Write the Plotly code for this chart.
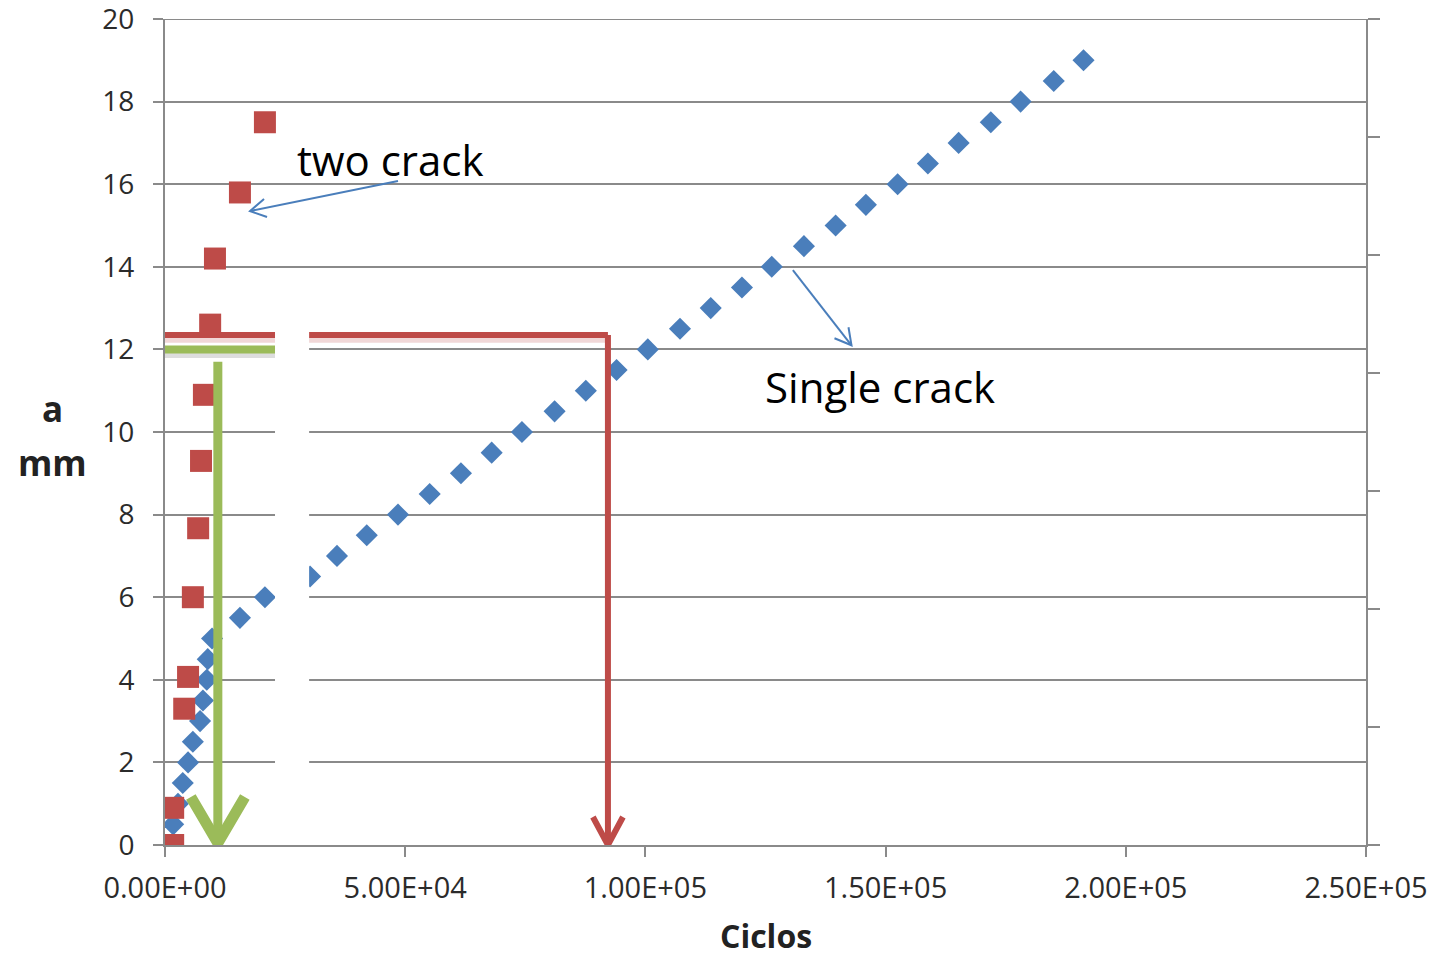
import plotly.graph_objects as go

# ---- data ----
single_cycles = [0, 1700, 2700, 3700, 4800, 5800, 7300, 7900, 8700, 8900, 9800,
                 15600, 20800, 30200, 35800, 42000, 48500, 55100, 61600, 68000,
                 74300, 81100, 87600, 94000, 100500, 107200, 113600, 120100,
                 126300, 133000, 139600, 145900, 152500, 158800, 165200, 171900,
                 178100, 185000, 191200]
single_a = [0, 0.5, 1.0, 1.5, 2.0, 2.5, 3.0, 3.5, 4.0, 4.5, 5.0,
            5.5, 6.0, 6.5, 7.0, 7.5, 8.0, 8.5, 9.0, 9.5,
            10.0, 10.5, 11.0, 11.5, 12.0, 12.5, 13.0, 13.5,
            14.0, 14.5, 15.0, 15.5, 16.0, 16.5, 17.0, 17.5,
            18.0, 18.5, 19.0]

two_cycles = [1700, 1700, 4000, 4800, 5800, 6900, 7500, 8100, 9400, 10400, 15600, 20800]
two_a = [0, 0.9, 3.3, 4.07, 6.0, 7.67, 9.3, 10.9, 12.6, 14.2, 15.8, 17.5]

x_tickvals = [0, 50000, 100000, 150000, 200000, 250000]
x_ticktext = ["0.00E+00", "5.00E+04", "1.00E+05", "1.50E+05", "2.00E+05", "2.50E+05"]
y_tickvals = [0, 2, 4, 6, 8, 10, 12, 14, 16, 18, 20]
y_max = 20

# guide lines (data coordinates)
red_level, red_cycles = 12.35, 92200
green_level, green_cycles, green_top, green_end = 12.0, 11000, 11.7, 22900
mask_x0, mask_x1, mask_top = 22900, 30000, 12.45
two_label = (47000, 16.59)
two_arrow = ((48500, 16.08), (17700, 15.35))
single_label = (148800, 11.09)
single_arrow = ((130700, 13.92), (142900, 12.1))

BLUE = "#4a7ebb"
RED = "#be4b48"
GREEN = "#9bbb59"
GRID = "#8a8a8a"
FONT = "Open Sans"
TXT = "#2b2b2b"

fig = go.Figure()
fig.add_trace(go.Scatter(x=single_cycles, y=single_a, mode="markers",
                         marker=dict(symbol="diamond", size=17, color=BLUE),
                         name="Single crack"))
fig.add_trace(go.Scatter(x=two_cycles, y=two_a, mode="markers",
                         marker=dict(symbol="square", size=22, color=RED),
                         name="two crack"))
# invisible trace for secondary axis
fig.add_trace(go.Scatter(x=[0], y=[0], mode="markers", yaxis="y2",
                         marker=dict(opacity=0), hoverinfo="skip", showlegend=False))

shapes = []
# top gridline (plotly drops gridlines at the very edge)
shapes.append(dict(type="line", xref="paper", yref="y", x0=0, x1=1, y0=y_max, y1=y_max,
                   line=dict(color=GRID, width=2), layer="below"))
# red guide (with soft shadow)
shapes.append(dict(type="line", xref="x", yref="y", x0=0, x1=red_cycles,
                   y0=red_level - 0.13, y1=red_level - 0.13,
                   line=dict(color="rgba(190,75,72,0.22)", width=5), layer="above"))
shapes.append(dict(type="line", xref="x", yref="y", x0=0, x1=red_cycles,
                   y0=red_level, y1=red_level, line=dict(color=RED, width=6), layer="above"))
shapes.append(dict(type="line", xref="x", yref="y", x0=red_cycles, x1=red_cycles,
                   y0=red_level, y1=0.05, line=dict(color=RED, width=6), layer="above"))
shapes.append(dict(type="path", xref="x", yref="y", xsizemode="pixel", ysizemode="pixel",
                   xanchor=red_cycles, yanchor=0,
                   path="M -15 28 L 0 0 L 15 28", line=dict(color=RED, width=6), layer="above"))
# green guide (with soft shadow)
shapes.append(dict(type="line", xref="x", yref="y", x0=0, x1=green_end,
                   y0=green_level - 0.15, y1=green_level - 0.15,
                   line=dict(color="rgba(120,120,120,0.25)", width=5), layer="above"))
shapes.append(dict(type="line", xref="x", yref="y", x0=0, x1=green_end,
                   y0=green_level, y1=green_level, line=dict(color=GREEN, width=8), layer="above"))
shapes.append(dict(type="line", xref="x", yref="y", x0=green_cycles, x1=green_cycles,
                   y0=green_top, y1=0.1, line=dict(color=GREEN, width=9), layer="above"))
shapes.append(dict(type="path", xref="x", yref="y", xsizemode="pixel", ysizemode="pixel",
                   xanchor=green_cycles, yanchor=0,
                   path="M -27 48 L 0 2 L 27 48", line=dict(color=GREEN, width=11), layer="above"))
# white mask
shapes.append(dict(type="rect", xref="x", yref="y", x0=mask_x0, x1=mask_x1,
                   y0=0, y1=mask_top, fillcolor="white", line=dict(width=0), layer="above"))
# blue annotation arrows
(tx0, ty0), (tx1, ty1) = two_arrow
shapes.append(dict(type="line", xref="x", yref="y", x0=tx0, y0=ty0, x1=tx1, y1=ty1,
                   line=dict(color=BLUE, width=2), layer="above"))
shapes.append(dict(type="path", xref="x", yref="y", xsizemode="pixel", ysizemode="pixel",
                   xanchor=tx1, yanchor=ty1,
                   path="M 14 12 L 0 0 L 17 -6", line=dict(color=BLUE, width=2), layer="above"))
(sx0, sy0), (sx1, sy1) = single_arrow
shapes.append(dict(type="line", xref="x", yref="y", x0=sx0, y0=sy0, x1=sx1, y1=sy1,
                   line=dict(color=BLUE, width=2), layer="above"))
shapes.append(dict(type="path", xref="x", yref="y", xsizemode="pixel", ysizemode="pixel",
                   xanchor=sx1, yanchor=sy1,
                   path="M -17 7 L 0 0 L -3 18", line=dict(color=BLUE, width=2), layer="above"))

annotations = [
    dict(x=two_label[0], y=two_label[1], xref="x", yref="y", text="two crack",
         xanchor="center", yanchor="middle",
         showarrow=False, font=dict(family=FONT, size=42, color="black")),
    dict(x=single_label[0], y=single_label[1], xref="x", yref="y", text="Single crack",
         xanchor="center", yanchor="middle",
         showarrow=False, font=dict(family=FONT, size=42, color="black")),
    dict(x=0.5, y=-0.110, xref="paper", yref="paper", text="<b>Ciclos</b>",
         xanchor="center", yanchor="middle",
         showarrow=False, font=dict(family=FONT, size=32, color="#222")),
    dict(x=-0.094, y=0.529, xref="paper", yref="paper", text="<b>a</b>",
         xanchor="center", yanchor="middle",
         showarrow=False, font=dict(family=FONT, size=35, color="#222")),
    dict(x=-0.094, y=0.4625, xref="paper", yref="paper", text="<b>mm</b>",
         xanchor="center", yanchor="middle",
         showarrow=False, font=dict(family=FONT, size=35, color="#222")),
]

fig.update_layout(
    width=1428, height=950,
    margin=dict(l=157, r=70, t=11, b=113, autoexpand=False),
    paper_bgcolor="white", plot_bgcolor="white",
    showlegend=False,
    font=dict(family=FONT, size=29, color=TXT),
    xaxis=dict(range=[0, 250000], tickvals=x_tickvals, ticktext=x_ticktext,
               showgrid=False, zeroline=False, showline=True, linecolor=GRID, linewidth=2,
               ticks="outside", ticklen=10, tickwidth=2, tickcolor=GRID,
               ticklabelstandoff=6, ticklabeloverflow="allow",
               tickfont=dict(family=FONT, size=29, color=TXT)),
    yaxis=dict(range=[0, y_max], tickvals=y_tickvals, showgrid=True, gridcolor=GRID, gridwidth=2,
               zeroline=False, showline=True, linecolor=GRID, linewidth=2,
               ticks="outside", ticklen=10, tickwidth=2, tickcolor=GRID,
               ticklabelstandoff=13, ticklabeloverflow="allow",
               tickfont=dict(family=FONT, size=28, color=TXT)),
    yaxis2=dict(range=[0, 7], dtick=1, overlaying="y", side="right", showgrid=False,
                zeroline=False, showline=True, linecolor=GRID, linewidth=2,
                ticks="outside", ticklen=12, tickwidth=2, tickcolor=GRID,
                showticklabels=False),
    shapes=shapes,
    annotations=annotations,
)

fig.write_html("out.html")
